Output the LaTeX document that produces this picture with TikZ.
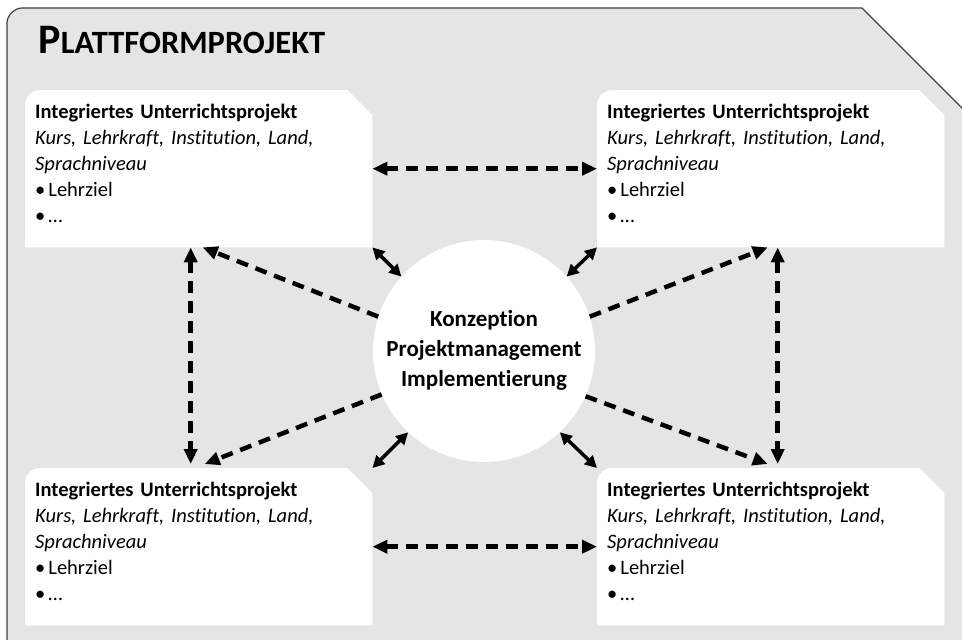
\documentclass[tikz,border=0pt]{standalone}
\usepackage{fontspec}
\setmainfont{Carlito}[Ligatures={NoCommon}]
\frenchspacing
\usetikzlibrary{arrows.meta,backgrounds}

\tikzset{
  projekt/.style={rectangle, anchor=north west, minimum width=347pt, minimum height=157pt,
    text width=327pt, inner sep=10pt, align=left, font=\fontsize{20.5}{26}\selectfont},
  zentrum/.style={circle, fill=white, minimum size=222pt, inner sep=0pt, align=center,
    font=\bfseries\fontsize{23}{30}\selectfont},
  lang/.style={line width=4.5pt, dash pattern=on 12pt off 8pt},
  beide/.style={lang, {Triangle[length=15pt,width=13pt]}-{Triangle[length=15pt,width=13pt]}},
  hin/.style={lang, -{Triangle[length=15pt,width=13pt]}},
  kurz/.style={line width=3.5pt, {Triangle[length=12pt,width=12pt]}-{Triangle[length=12pt,width=12pt]}},
}
% white sheet behind a project node
\newcommand{\blatt}[1]{%
  \fill[white] (#1.south west) -- ([yshift=-15pt]#1.north west)
    .. controls ([yshift=-7pt]#1.north west) and ([xshift=7pt]#1.north west) .. ([xshift=15pt]#1.north west)
    -- ([xshift=-25pt]#1.north east) -- ([yshift=-25pt]#1.north east) -- (#1.south east) -- cycle;}
\newcommand{\inhalt}{\textbf{Integriertes Unterrichtsprojekt}\\
  \textit{Kurs, Lehrkraft, Institution, Land,}\\
  \textit{Sprachniveau}\\
  •\hspace{3pt}Lehrziel\\
  •\hspace{3pt}…\rule[-10pt]{0pt}{10pt}}

\begin{document}
\begin{tikzpicture}[x=1pt,y=-1pt]
  \useasboundingbox (0,0) rectangle (962,640);
  \node[anchor=base west, font=\bfseries\fontsize{42}{42}\selectfont] (titel) at (35,53)
    {P{\fontsize{32.5}{32.5}\selectfont LATTFORMPROJEKT}};
  \node[projekt] (p1) at (25,90) {\inhalt};
  \node[projekt] (p2) at (597,90) {\inhalt};
  \node[projekt] (p3) at (25,468) {\inhalt};
  \node[projekt] (p4) at (597,468) {\inhalt};
  \node[zentrum] (mitte) at (484,351)
    {Konzeption\\ Projektmanagement\\ Implementierung\rule[-6pt]{0pt}{6pt}};
  \begin{scope}[on background layer]
    \draw[fill=black!10, draw=black!75, line width=1.2pt] (7,660) -- (7,23)
      .. controls (7,15) and (15,8) .. (22,8) -- (862,8) -- (972,118) -- (972,660) -- cycle;
    \foreach \p in {p1,p2,p3,p4} {\blatt{\p}}
  \end{scope}
  \path[beide]
    (p1.east) edge (p2.west)
    (p3.east) edge (p4.west)
    ([xshift=-8pt]p1.south) edge ([xshift=-8pt,yshift=4pt]p3.north)
    ([xshift=7pt]p2.south) edge ([xshift=7pt,yshift=4pt]p4.north);
  \path[hin]
    (mitte.162) edge ([xshift=4pt]p1.south)
    (mitte.203) edge ([xshift=6pt,yshift=4pt]p3.north)
    (mitte.18) edge ([xshift=-3pt]p2.south)
    (mitte.336) edge ([xshift=-3pt,yshift=4pt]p4.north);
  \path[kurz]
    (p1.south east) edge (mitte.138)
    (p3.north east) edge (mitte.227)
    (p2.south west) edge (mitte.42)
    (p4.north west) edge (mitte.313);
\end{tikzpicture}
\end{document}
